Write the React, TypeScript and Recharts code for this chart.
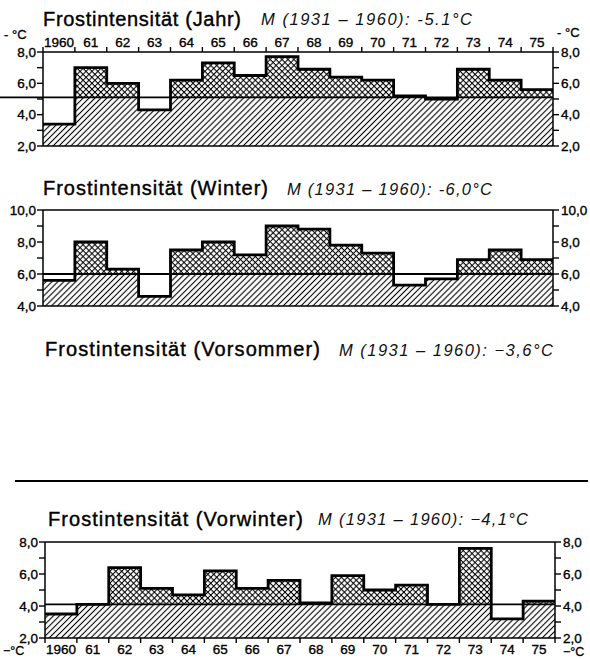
import React from 'react';
import { ComposedChart, Area, Line, XAxis, YAxis, ReferenceLine } from 'recharts';

const FIRST_YEAR = 1960;
const yearLabels = ['1960', '61', '62', '63', '64', '65', '66', '67', '68', '69', '70', '71', '72', '73', '74', '75'];

const jahrValues = [3.4, 7.0, 6.0, 4.3, 6.2, 7.3, 6.5, 7.7, 6.9, 6.4, 6.2, 5.2, 5.0, 6.9, 6.2, 5.6];
const jahrMean = 5.1;
const jahrTicks = [2, 3, 4, 5, 6, 7, 8];

const winterValues = [5.6, 8.0, 6.3, 4.6, 7.5, 8.0, 7.2, 9.0, 8.8, 7.8, 7.3, 5.3, 5.7, 6.9, 7.5, 6.9];
const winterMean = 6.0;
const winterTicks = [4, 5, 6, 7, 8, 9, 10];

const vorwinterValues = [3.5, 4.1, 6.4, 5.1, 4.7, 6.2, 5.1, 5.6, 4.2, 5.9, 5.0, 5.3, 4.1, 7.6, 3.2, 4.3];
const vorwinterMean = 4.1;
const vorwinterTicks = [2, 3, 4, 5, 6, 7, 8];

const FONT = '"Liberation Sans", Arial, Helvetica, sans-serif';

function buildRows(values: number[], mean: number) {
  const rows = values.map((v, i) => ({
    x: FIRST_YEAR + i,
    v,
    lower: Math.min(v, mean),
    upper: [mean, Math.max(v, mean)],
  }));
  const last = values[values.length - 1];
  rows.push({ x: FIRST_YEAR + values.length, v: last, lower: Math.min(last, mean), upper: [mean, Math.max(last, mean)] });
  return rows;
}

const boundaryTicks = yearLabels.map((_, i) => FIRST_YEAR + i).concat([FIRST_YEAR + yearLabels.length]);

const YearTick = (props: any) => {
  const { x, y, payload, pos, col } = props;
  const i = Math.round(payload.value) - FIRST_YEAR;
  if (i < 0 || i >= yearLabels.length) return <g />;
  const ty = pos === 'top' ? y + 2 : y + 9;
  return (
    <text x={x + col / 2} y={ty} textAnchor="middle" fontFamily={FONT} fontSize={13.5} fill="#000" stroke="#000" strokeWidth={0.35}>
      {yearLabels[i]}
    </text>
  );
};

const yFmt = (v: number) => (Math.round(v) % 2 === 0 ? v.toFixed(1).replace('.', ',') : '');
const emptyFmt = () => '';

type ChartProps = {
  id: string;
  values: number[];
  mean: number;
  ticks: number[];
  top: number;
  height: number;
  marginTop: number;
  topH: number;
  bottomH: number;
  leftW: number;
  rightW: number;
  labels: 'top' | 'bottom' | 'none';
  extendMean?: boolean;
};

function FrostChart(p: ChartProps) {
  const rows = buildRows(p.values, p.mean);
  const plotW = 590 - p.leftW - p.rightW;
  const col = plotW / p.values.length;
  const yDomain = [p.ticks[0], p.ticks[p.ticks.length - 1]];
  const xDomain = [FIRST_YEAR, FIRST_YEAR + p.values.length];
  const axisLine = { stroke: '#000', strokeWidth: 1.5 };
  const tickLine = { stroke: '#000', strokeWidth: 1.4 };
  const yTick = { fill: '#000', fontSize: 13.5, fontFamily: FONT, stroke: '#000', strokeWidth: 0.35 };
  const meanShape = p.extendMean
    ? (s: any) => <line x1={0} y1={s.y1} x2={s.x2} y2={s.y2} stroke="#000" strokeWidth={1.8} />
    : undefined;
  return (
    <div style={{ position: 'absolute', left: 0, top: p.top }}>
      <ComposedChart width={590} height={p.height} data={rows} margin={{ top: p.marginTop, right: 0, bottom: 0, left: 0 }}>
        <defs>
          <pattern id={`diag-${p.id}`} patternUnits="userSpaceOnUse" width={4.2} height={4.2} patternTransform="rotate(45)">
            <line x1={2.1} y1={0} x2={2.1} y2={4.2} stroke="#000" strokeWidth={1.1} />
          </pattern>
          <pattern id={`cross-${p.id}`} patternUnits="userSpaceOnUse" width={4.2} height={4.2} patternTransform="rotate(45)">
            <path d="M2.1 0 V4.2 M0 2.1 H4.2" stroke="#000" strokeWidth={1.05} />
          </pattern>
        </defs>
        <XAxis
          xAxisId="t"
          orientation="top"
          type="number"
          dataKey="x"
          domain={xDomain}
          ticks={boundaryTicks}
          interval={0}
          allowDataOverflow
          height={p.topH}
          tickSize={5}
          tickMargin={2}
          axisLine={axisLine}
          tickLine={tickLine}
          tickFormatter={p.labels === 'top' ? undefined : emptyFmt}
          tick={p.labels === 'top' ? (tp: any) => <YearTick {...tp} pos="top" col={col} /> : false}
        />
        <XAxis
          xAxisId="b"
          orientation="bottom"
          type="number"
          dataKey="x"
          domain={xDomain}
          ticks={boundaryTicks}
          interval={0}
          allowDataOverflow
          height={p.bottomH}
          tickSize={5}
          tickMargin={2}
          axisLine={axisLine}
          tickLine={tickLine}
          tickFormatter={p.labels === 'bottom' ? undefined : emptyFmt}
          tick={p.labels === 'bottom' ? (tp: any) => <YearTick {...tp} pos="bottom" col={col} /> : false}
        />
        <YAxis
          yAxisId="l"
          orientation="left"
          type="number"
          domain={yDomain}
          ticks={p.ticks}
          interval={0}
          allowDataOverflow
          width={p.leftW}
          tickSize={6}
          tickMargin={1}
          axisLine={axisLine}
          tickLine={tickLine}
          tickFormatter={yFmt}
          tick={yTick}
        />
        <YAxis
          yAxisId="r"
          orientation="right"
          type="number"
          domain={yDomain}
          ticks={p.ticks}
          interval={0}
          allowDataOverflow
          width={p.rightW}
          tickSize={6}
          tickMargin={2}
          axisLine={axisLine}
          tickLine={tickLine}
          tickFormatter={yFmt}
          tick={yTick}
        />
        <Area
          xAxisId="b"
          yAxisId="l"
          type="stepAfter"
          dataKey="lower"
          baseValue="dataMin"
          fill={`url(#diag-${p.id})`}
          fillOpacity={1}
          stroke="none"
          isAnimationActive={false}
          activeDot={false}
        />
        <Area
          xAxisId="b"
          yAxisId="l"
          type="stepAfter"
          dataKey="upper"
          fill={`url(#cross-${p.id})`}
          fillOpacity={1}
          stroke="none"
          isAnimationActive={false}
          activeDot={false}
        />
        <ReferenceLine xAxisId="b" yAxisId="l" y={p.mean} stroke="#000" strokeWidth={1.8} shape={meanShape} />
        <Line
          xAxisId="t"
          yAxisId="r"
          type="stepAfter"
          dataKey="v"
          stroke="#000"
          strokeWidth={2.8}
          strokeLinejoin="miter"
          dot={false}
          activeDot={false}
          isAnimationActive={false}
        />
      </ComposedChart>
    </div>
  );
}

const titleStyle = { fontFamily: FONT, fontSize: 20, fill: '#000', stroke: '#000', strokeWidth: 0.4 } as const;
const meanStyle = { fontFamily: FONT, fontSize: 16.5, fontStyle: 'italic', fill: '#111' } as const;
const unitStyle = { fontFamily: FONT, fontSize: 13, fill: '#000', stroke: '#000', strokeWidth: 0.3 } as const;

export default function App() {
  return (
    <div style={{ position: 'absolute', left: 0, top: 0, width: 590, height: 659, background: '#fff', overflow: 'hidden' }}>
      <FrostChart id="a" values={jahrValues} mean={jahrMean} ticks={jahrTicks} top={0} height={160} marginTop={22} topH={30} bottomH={14} leftW={43} rightW={37} labels="top" extendMean />
      <FrostChart id="b" values={winterValues} mean={winterMean} ticks={winterTicks} top={200} height={120} marginTop={0} topH={10} bottomH={14} leftW={43} rightW={37} labels="none" />
      <FrostChart id="d" values={vorwinterValues} mean={vorwinterMean} ticks={vorwinterTicks} top={500} height={159} marginTop={32} topH={10} bottomH={21} leftW={45} rightW={35} labels="bottom" />
      <svg width={590} height={659} style={{ position: 'absolute', left: 0, top: 0, pointerEvents: 'none' }}>
        <text x={43} y={26} textLength={198} lengthAdjust="spacing" {...titleStyle}>Frostintensität (Jahr)</text>
        <text x={261} y={25} textLength={211} lengthAdjust="spacing" {...meanStyle}>M (1931 – 1960): -5.1°C</text>
        <text x={4} y={39} {...unitStyle}>- °C</text>
        <text x={557} y={37} {...unitStyle}>- °C</text>

        <text x={43} y={195} textLength={225} lengthAdjust="spacing" {...titleStyle}>Frostintensität (Winter)</text>
        <text x={287} y={195} textLength={205} lengthAdjust="spacing" {...meanStyle}>M (1931 – 1960): -6,0°C</text>

        <text x={45} y={356} textLength={275} lengthAdjust="spacing" {...titleStyle}>Frostintensität (Vorsommer)</text>
        <text x={339} y={356} textLength={214} lengthAdjust="spacing" {...meanStyle}>M (1931 – 1960): −3,6°C</text>
        <line x1={15} y1={481} x2={588} y2={481} stroke="#000" strokeWidth={2} />

        <text x={48} y={526} textLength={255} lengthAdjust="spacing" {...titleStyle}>Frostintensität (Vorwinter)</text>
        <text x={318} y={525} textLength={210} lengthAdjust="spacing" {...meanStyle}>M (1931 – 1960): −4,1°C</text>
        <text x={3} y={655} fontSize={12.5} {...{ fontFamily: FONT, fill: '#000', stroke: '#000', strokeWidth: 0.3 }}>−°C</text>
        <text x={563} y={656} fontSize={12.5} {...{ fontFamily: FONT, fill: '#000', stroke: '#000', strokeWidth: 0.3 }}>−°C</text>
      </svg>
    </div>
  );
}
